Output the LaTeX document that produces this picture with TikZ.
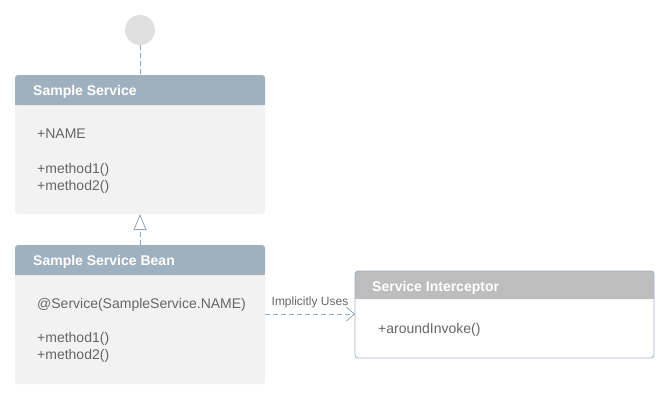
\documentclass[tikz,border=0pt]{standalone}
\usepackage{fontspec}
\setmainfont{Liberation Sans}
\usetikzlibrary{arrows.meta}
\definecolor{hdrblue}{HTML}{9FB1BF}
\definecolor{hdrgray}{HTML}{BDBDBD}
\definecolor{bodyg}{HTML}{F2F2F2}
\definecolor{txtg}{HTML}{666666}
\definecolor{linec}{HTML}{8FA6BA}
\definecolor{circg}{HTML}{E0E0E0}
\tikzset{
  hdrtext/.style={anchor=west,text=white,font=\fontsize{14}{16}\selectfont\bfseries,inner sep=0},
  bodytext/.style={anchor=west,text=txtg,font=\fontsize{14}{16}\selectfont,inner sep=0},
  conn/.style={draw=linec,dashed,dash pattern=on 5pt off 3pt,line width=0.8pt},
}
\begin{document}
\begin{tikzpicture}[x=1pt,y=-1pt]
\useasboundingbox (0,0) rectangle (670,400);
% circle
\node[circle,fill=circg,minimum size=30pt,inner sep=0] (circ) at (140,30) {};
% Sample Service
\fill[bodyg,rounded corners=3pt] (15,75) rectangle (265,214);
\fill[hdrblue,rounded corners=3pt] (15,75) rectangle (265,105);
\fill[hdrblue] (15,95) rectangle (265,105);
\coordinate (svctop) at (140,75);
\coordinate (svcbot) at (140,214);
\node[hdrtext] (svctitle) at (33,91.5) {Sample Service};
\node[bodytext] (svcname) at (37,134) {+NAME};
\node[bodytext] (svcm1) at (37,170) {+method1()};
\node[bodytext] (svcm2) at (37,187) {+method2()};
% Sample Service Bean
\fill[bodyg,rounded corners=3pt] (15,245) rectangle (265,384);
\fill[hdrblue,rounded corners=3pt] (15,245) rectangle (265,275);
\fill[hdrblue] (15,265) rectangle (265,275);
\coordinate (beantop) at (140,245);
\coordinate (beanright) at (265,314);
\node[hdrtext] (beantitle) at (33,261.5) {Sample Service Bean};
\node[bodytext] (beanann) at (37,305) {@Service(SampleService.NAME)};
\node[bodytext] (beanm1) at (37,339) {+method1()};
\node[bodytext] (beanm2) at (37,356) {+method2()};
% Service Interceptor
\fill[white,rounded corners=3pt] (355,271) rectangle (654,358);
\fill[hdrgray,rounded corners=3pt] (355,271) rectangle (654,299);
\fill[hdrgray] (355,290) rectangle (654,299);
\draw[hdrblue,line width=0.8pt,rounded corners=3pt] (355,271) rectangle (654,358);
\coordinate (intleft) at (355,314);
\node[hdrtext] (inttitle) at (372,287.5) {Service Interceptor};
\node[bodytext] (intm) at (378,330) {+aroundInvoke()};
% connectors
\draw[conn] (circ.south) -- (svctop);
\draw[conn,-{Triangle[open,width=13pt,length=16pt]}] (beantop) -- (svcbot);
\draw[conn,-{Straight Barb[width=14pt,length=8pt]}] (beanright) -- (intleft)
  node[midway,above=6pt,text=txtg,font=\fontsize{12}{14}\selectfont,inner sep=0] (lbl) {Implicitly Uses};
\end{tikzpicture}
\end{document}
